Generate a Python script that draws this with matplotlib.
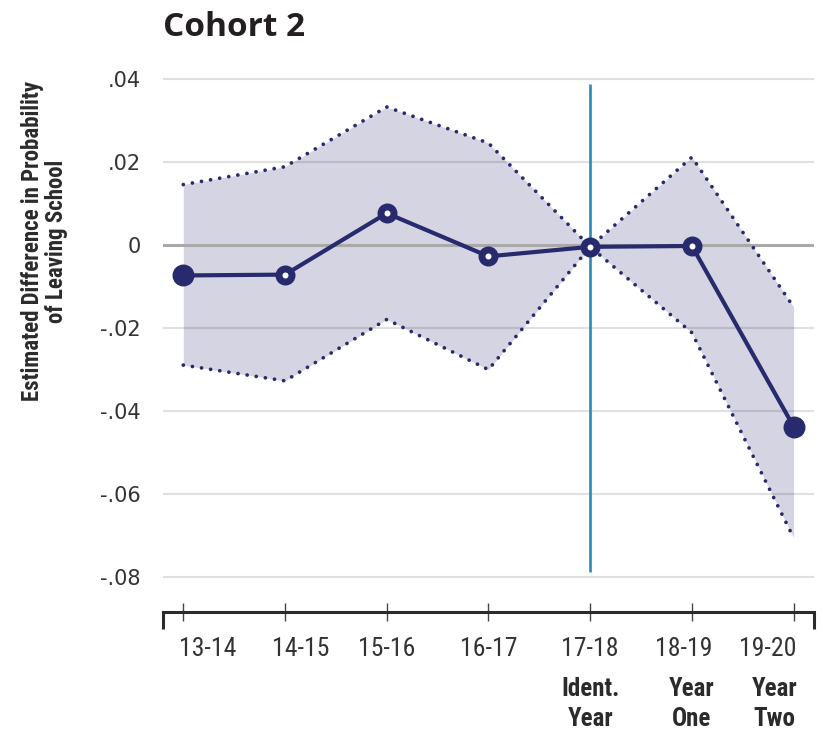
import numpy as np
import matplotlib.pyplot as plt
from matplotlib.lines import Line2D
from matplotlib.transforms import ScaledTranslation

# school years and the labels under them
years = ["13-14", "14-15", "15-16", "16-17", "17-18", "18-19", "19-20"]
year_notes = ["", "", "", "", "Ident.\nYear", "Year\nOne", "Year\nTwo"]

# estimate and the confidence band
estimate = [-0.0073, -0.0071, 0.0077, -0.0027, -0.0004, -0.0002, -0.0437]
upper = [0.0146, 0.0189, 0.0333, 0.0246, -0.0004, 0.0212, -0.0149]
lower = [-0.0289, -0.0327, -0.0179, -0.0300, -0.0004, -0.0211, -0.0705]

y_ticks = [0.04, 0.02, 0.0, -0.02, -0.04, -0.06, -0.08]
y_tick_labels = [".04", ".02", "0", "-.02", "-.04", "-.06", "-.08"]

# horizontal nudges (px) the original layout gives the edge labels
label_nudge = [24, 16, 0, 0, 0, -8, -26]
note_nudge = [0, 0, 0, 0, 0, 0, -19]

NAVY = "#272a6c"
BAND = "#d4d4e3"
TEAL = "#2a89b5"
INK = "#2b2b2b"

narrow = ["Roboto Condensed", "Liberation Sans Narrow", "Roboto", "DejaVu Sans"]

fig = plt.figure(figsize=(8.23, 7.3), dpi=100)
ax = fig.add_axes([0.198, 0.1616, 0.791, 0.7402])

x = np.arange(len(years))

ax.fill_between(x, lower, upper, color=BAND, lw=0, zorder=1)

# gridlines sit over the band
for v in y_ticks:
    if v == 0:
        ax.axhline(v, color="#a9a9a9", lw=2.2, zorder=2)
    else:
        ax.axhline(v, color="black", alpha=0.12, lw=1.6, zorder=2)

dots = dict(color=NAVY, lw=2.7, linestyle=(0, (0.01, 2.45)),
            dash_capstyle="round", zorder=3)
ax.plot(x, upper, **dots)
ax.plot(x, lower, **dots)

# identification year marker
ax.vlines(4, -0.0788, 0.0388, color=TEAL, lw=1.9, zorder=4)

ax.plot(x, estimate, color=NAVY, lw=3, zorder=5)
ax.plot(x[1:-1], estimate[1:-1], "o", ms=9.4, mew=5, mfc="white",
        mec=NAVY, zorder=6)
ax.plot(x[[0, -1]], np.array(estimate)[[0, -1]], "o", ms=14, mew=1.8,
        mfc=NAVY, mec=NAVY, zorder=6)

ax.set_xlim(-0.2, 6.2)
ax.set_ylim(-0.0884, 0.0418)

for side in ["top", "right", "left"]:
    ax.spines[side].set_visible(False)
ax.spines["bottom"].set_color(INK)
ax.spines["bottom"].set_linewidth(2.2)

# bracket ends on the bottom axis
for xe in [0, 1]:
    ax.add_line(Line2D([xe, xe], [0, -0.032], transform=ax.transAxes,
                       color=INK, lw=2.2, clip_on=False,
                       solid_capstyle="butt"))

ax.set_yticks(y_ticks)
ax.set_yticklabels(y_tick_labels)
ax.tick_params(axis="y", length=0, pad=16, labelsize=15, labelcolor="#333333")

ax.set_xticks(x)
ax.set_xticklabels(years, family=narrow, fontsize=18.5, color="#333333")
ax.tick_params(axis="x", direction="inout", length=13.5, width=1,
               color="#444444", pad=11)
for lab, dx in zip(ax.get_xticklabels(), label_nudge):
    lab.set_transform(lab.get_transform()
                      + ScaledTranslation(dx / 100, 0, fig.dpi_scale_trans))

for xi, note, dx in zip(x, year_notes, note_nudge):
    if note:
        shift = ScaledTranslation(dx / 100, 0, fig.dpi_scale_trans)
        ax.text(xi, -0.12, note, transform=ax.get_xaxis_transform() + shift,
                ha="center", va="top", fontsize=18, fontweight="bold",
                family=narrow, color=INK, linespacing=1.3)

fig.text(0.198, 0.985, "Cohort 2", ha="left", va="top", fontsize=24,
         fontweight="bold", family=["Open Sans", "DejaVu Sans"], color="#231f20")

fig.text(0.054, 0.67, "Estimated Difference in Probability\nof Leaving School",
         rotation=90, ha="center", va="center", multialignment="center",
         fontsize=16.5, fontweight="bold", family=narrow, color=INK,
         linespacing=1.05)

fig.savefig("out.png", dpi=100)
